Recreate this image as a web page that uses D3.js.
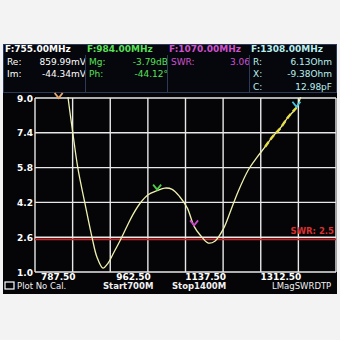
<!DOCTYPE html>
<html><head><meta charset="utf-8">
<script src="https://cdn.jsdelivr.net/npm/d3@7"></script>
<style>html,body{margin:0;padding:0;background:#f3f3f3;}svg{display:block;}</style>
</head><body>
<svg id="c" width="340" height="340"></svg>
<script>
// ---- data ----
const freqMHz = [700, 730, 755, 770, 777, 788, 800, 816, 833, 844, 858, 870, 882, 898, 914, 928, 944, 963, 984, 1002, 1019, 1037, 1054, 1070, 1084, 1103, 1119, 1138, 1154, 1172, 1196, 1217, 1235, 1252, 1270, 1289, 1308, 1317, 1330, 1400];
const swrVals = [18, 16, 13.4, 10.3, 9.0, 7.39, 5.74, 4.17, 2.56, 1.69, 1.18, 1.41, 1.85, 2.45, 3.1, 3.65, 4.15, 4.55, 4.74, 4.86, 4.8, 4.45, 3.95, 3.1, 2.70, 2.33, 2.43, 2.98, 3.76, 4.68, 5.69, 6.29, 6.75, 7.21, 7.6, 8.13, 8.55, 9.0, 9.8, 14];
const yTicks = [1.0, 2.6, 4.2, 5.8, 7.4, 9.0];
const xTicks = [700, 787.5, 875, 962.5, 1050, 1137.5, 1225, 1312.5, 1400];
const xTickLabels = ["787.50", "962.50", "1137.50", "1312.50"];
const xLabelFreqs = [787.5, 962.5, 1137.5, 1312.5];
const markerFreqs = [755, 984, 1070, 1308];
const markerSwr = [13.4, 4.74, 3.1, 8.55];
const markerColors = ["#e8a868", "#48d048", "#c848c8", "#48c8e0"];
const refSwr = 2.5;
const infoHeads = ["F:755.00MHz", "F:984.00MHz", "F:1070.00MHz", "F:1308.00MHz"];
const infoLabels = [["Re:", "Im:"], ["Mg:", "Ph:"], ["SWR:"], ["R:", "X:", "C:"]];
const infoValues = [["859.99mV", "-44.34mV"], ["-3.79dB", "-44.12°"], ["3.06"], ["6.13Ohm", "-9.38Ohm", "12.98pF"]];
const infoColors = ["#ffffff", "#58e058", "#d050d0", "#b8f0f0"];
const statusItems = ["Plot No Cal.", "Start700M", "Stop1400M", "LMagSWRDTP"];

// ---- layout ----
const svg = d3.select("#c");
const L = 35, R = 336, T = 98, B = 272;
const x = d3.scaleLinear().domain([700, 1400]).range([L, R]);
const y = d3.scaleLinear().domain([1, 9]).range([B, T]);
const font = "'DejaVu Sans', 'Liberation Sans', sans-serif";

// screen
svg.append("rect").attr("x", 3).attr("y", 44).attr("width", 334).attr("height", 250).attr("fill", "#050507");

// info panel
svg.append("rect").attr("x", 3.5).attr("y", 44.5).attr("width", 333).attr("height", 48)
  .attr("fill", "#06070c").attr("stroke", "#2c3a58").attr("stroke-width", 1);
const colX = [5, 87, 169, 251];
const colW = 82;
colX.forEach((cx, i) => {
  if (i > 0) svg.append("line").attr("x1", cx - 1.5).attr("x2", cx - 1.5).attr("y1", 55).attr("y2", 92)
    .attr("stroke", "#2c3a58").attr("stroke-width", 1);
  svg.append("text").attr("x", cx).attr("y", 52).attr("fill", infoColors[i])
    .attr("font-family", font).attr("font-size", 9).attr("font-weight", "bold").text(infoHeads[i]);
  infoLabels[i].forEach((lb, j) => {
    const yy = 65 + j * 12.3;
    svg.append("text").attr("x", cx + 2).attr("y", yy).attr("fill", infoColors[i])
      .attr("font-family", font).attr("font-size", 9).text(lb);
    svg.append("text").attr("x", cx + colW - 1).attr("y", yy).attr("fill", infoColors[i])
      .attr("text-anchor", "end").attr("font-family", font).attr("font-size", 9).text(infoValues[i][j]);
  });
});

// grid
const g = svg.append("g");
xTicks.forEach(f => {
  g.append("line").attr("x1", x(f)).attr("x2", x(f)).attr("y1", T).attr("y2", B)
    .attr("stroke", "#e8e8e8").attr("stroke-width", 1.4);
});
yTicks.forEach(v => {
  g.append("line").attr("x1", L).attr("x2", R).attr("y1", y(v)).attr("y2", y(v))
    .attr("stroke", "#e8e8e8").attr("stroke-width", 1.4);
});

// y labels
yTicks.forEach(v => {
  svg.append("text").attr("x", 33).attr("y", y(v) + 3.5).attr("text-anchor", "end")
    .attr("fill", "#ffffff").attr("font-family", font).attr("font-size", 9).attr("font-weight", "bold")
    .text(v.toFixed(1));
});
// x labels
xLabelFreqs.forEach((f, i) => {
  svg.append("text").attr("x", x(f) + 3).attr("y", 280).attr("text-anchor", "end")
    .attr("fill", "#ffffff").attr("font-family", font).attr("font-size", 9).attr("font-weight", "bold")
    .text(xTickLabels[i]);
});

// reference line
svg.append("line").attr("x1", L).attr("x2", R).attr("y1", y(refSwr)).attr("y2", y(refSwr))
  .attr("stroke", "#c02828").attr("stroke-width", 1.6);
svg.append("text").attr("x", 334).attr("y", y(refSwr) - 5).attr("fill", "#d83030").attr("text-anchor", "end")
  .attr("font-family", font).attr("font-size", 8.5).attr("font-weight", "bold").text("SWR: " + refSwr.toFixed(1));

// trace
svg.append("clipPath").attr("id", "pc").append("rect").attr("x", L).attr("y", T - 1).attr("width", R - L).attr("height", B - T + 2);
const data = freqMHz.map((f, i) => ({f, v: swrVals[i]}));
const line = d3.line().x(d => x(d.f)).y(d => y(d.v)).curve(d3.curveCatmullRom.alpha(0.5));
const tg = svg.append("g").attr("clip-path", "url(#pc)");
tg.append("path").datum(data).attr("d", line).attr("fill", "none")
  .attr("stroke", "#f0f0b0").attr("stroke-width", 1.3);
tg.append("path").datum(data.filter(d => d.f >= 1230 && d.f <= 1310)).attr("d", line).attr("fill", "none")
  .attr("stroke", "#e8e040").attr("stroke-width", 2.4).attr("stroke-dasharray", "6,3");

// markers
markerFreqs.forEach((f, i) => {
  const mx = x(f), my = Math.max(y(markerSwr[i]), T + 1);
  svg.append("path").attr("d", `M${mx - 4},${my - 6} L${mx},${my - 1} L${mx + 4},${my - 6}`)
    .attr("fill", "none").attr("stroke", markerColors[i]).attr("stroke-width", 1.8);
});

// status bar
const sx = [17, 103, 172, 272];
svg.append("rect").attr("x", 5).attr("y", 282).attr("width", 9).attr("height", 7).attr("fill", "none")
  .attr("stroke", "#ffffff").attr("stroke-width", 1.2);
statusItems.forEach((s, i) => {
  svg.append("text").attr("x", sx[i]).attr("y", 289).attr("fill", "#f0f0f0")
    .attr("font-family", font).attr("font-size", 8.5).attr("font-weight", i === 1 || i === 2 ? "bold" : "normal").text(s);
});
</script>
</body></html>
